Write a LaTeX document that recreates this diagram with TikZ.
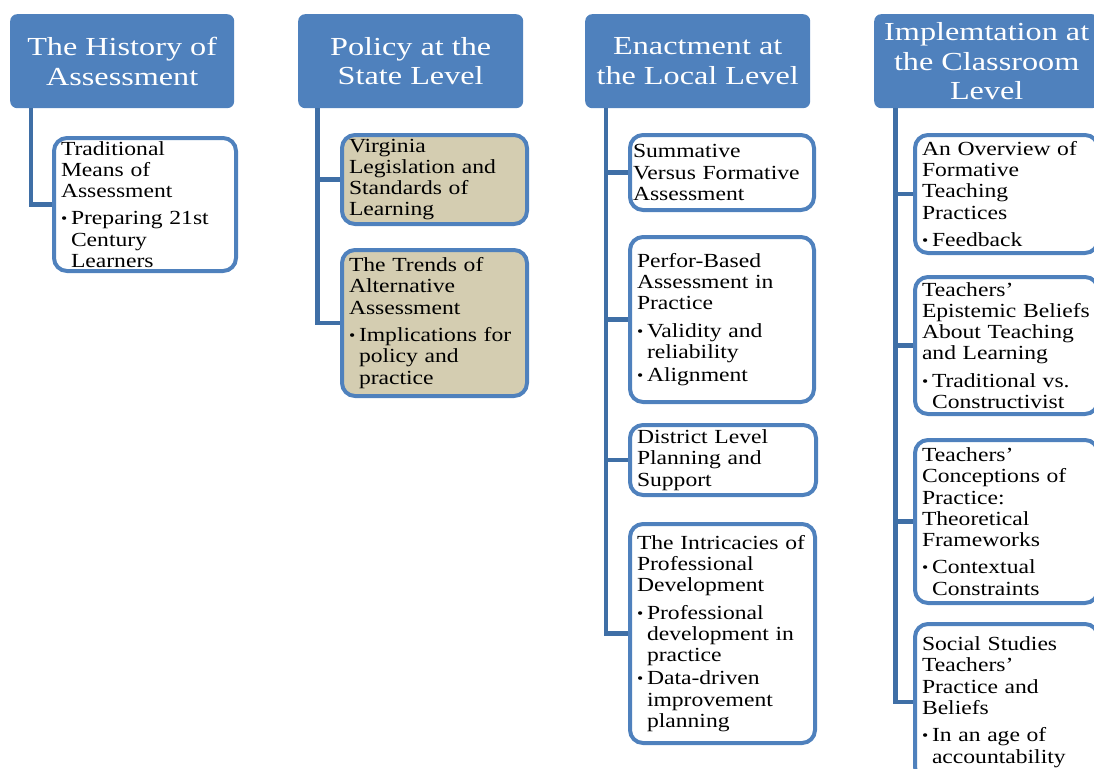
\documentclass[tikz,border=0pt]{standalone}
\usepackage{fontspec}
\setmainfont{Liberation Serif}[FakeStretch=1.18]
\newfontfamily\headfont{Liberation Serif}[FakeStretch=1.24]
\usetikzlibrary{positioning}
\definecolor{hblue}{HTML}{4F81BD}
\definecolor{lblue}{HTML}{3F6FA6}
\definecolor{ltan}{HTML}{D4CDB1}
\tikzset{
  head/.style = {fill=hblue, rounded corners=7, text=white, anchor=north west,
    inner sep=0, minimum width=225, minimum height=94, align=center,
    font=\headfont\fontsize{26}{29.7}\selectfont},
  sub/.style = {draw=hblue, line width=4, fill=white, rounded corners=13,
    anchor=north west, inner xsep=7, inner ysep=0, align=left,
    font=\fontsize{20}{21.3}\selectfont},
  link/.style = {draw=lblue, line width=4.5},
}
\newcommand{\bul}{\makebox[10pt][l]{\raisebox{1pt}{\scalebox{0.75}{\textbullet}}}}
\newcommand{\ind}{\hspace*{10pt}}

\begin{document}
\begin{tikzpicture}[x=1pt, y=-1pt]
  \useasboundingbox (0,0) rectangle (1094,768);
  \clip (0,0) rectangle (1094,768);

  % headers
  \node [head, minimum width=224] (h1) at (10,14) {The History of\\Assessment};
  \node [head] (h2) at (298,14) {Policy at the\\State Level};
  \node [head] (h3) at (585,14) {Enactment at\\the Local Level};
  \node [head] (h4) at (874,14) {Implemtation at\\the Classroom\\Level};

  % first column
  \node [sub, text width=168, minimum height=133] (c11) at (52,136)
    {Traditional\\Means of\\Assessment\\[6pt]\bul Preparing 21st\\\ind Century\\\ind Learners};

  % second column
  \node [sub, fill=ltan, text width=171, minimum height=89] (c21) at (340,133)
    {Virginia\\Legislation and\\Standards of\\Learning};
  \node [sub, fill=ltan, text width=171, minimum height=146] (c22) at (340,248)
    {The Trends of\\Alternative\\Assessment\\[6pt]\bul Implications for\\\ind policy and\\\ind practice};

  % third column
  \node [sub, inner xsep=3, text width=178, minimum height=75] (c31) at (628,133)
    {Summative\\Versus Formative\\Assessment};
  \node [sub, text width=170, minimum height=165] (c32) at (628,235)
    {Perfor-Based\\Assessment in\\Practice\\[6pt]\bul Validity and\\\ind reliability\\[2pt]\bul Alignment};
  \node [sub, text width=172, minimum height=70] (c33) at (628,423)
    {District Level\\Planning and\\Support};
  \node [sub, text width=171, minimum height=219] (c34) at (628,522)
    {The Intricacies of\\Professional\\Development\\[6pt]\bul Professional\\\ind development in\\\ind practice\\[2pt]\bul Data-driven\\\ind improvement\\\ind planning};

  % fourth column
  \node [sub, text width=169, minimum height=118] (c41) at (913,133)
    {An Overview of\\Formative\\Teaching\\Practices\\[6pt]\bul Feedback};
  \node [sub, text width=169, minimum height=137] (c42) at (913,275)
    {Teachers’\\Epistemic Beliefs\\About Teaching\\and Learning\\[6pt]\bul Traditional vs.\\\ind Constructivist};
  \node [sub, text width=169, minimum height=163] (c43) at (913,438)
    {Teachers’\\Conceptions of\\Practice:\\Theoretical\\Frameworks\\[6pt]\bul Contextual\\\ind Constraints};
  \node [sub, text width=169, minimum height=156] (c44) at (913,622)
    {Social Studies\\Teachers’\\Practice and\\Beliefs\\[6pt]\bul In an age of\\\ind accountability};

  % spines
  \coordinate (s1) at (30.8,108);
  \coordinate (s2) at (317.7,108);
  \coordinate (s3) at (606,108);
  \coordinate (s4) at (895.5,108);
  \draw [link] (s1) |- (c11.west);
  \foreach \c in {c21, c22} {
    \draw [link] (s2) |- (\c.west);
  }
  \foreach \c in {c31, c32, c33, c34} {
    \draw [link] (s3) |- (\c.west);
  }
  \foreach \c in {c41, c42, c43, c44} {
    \draw [link] (s4) |- (\c.west);
  }
\end{tikzpicture}
\end{document}
